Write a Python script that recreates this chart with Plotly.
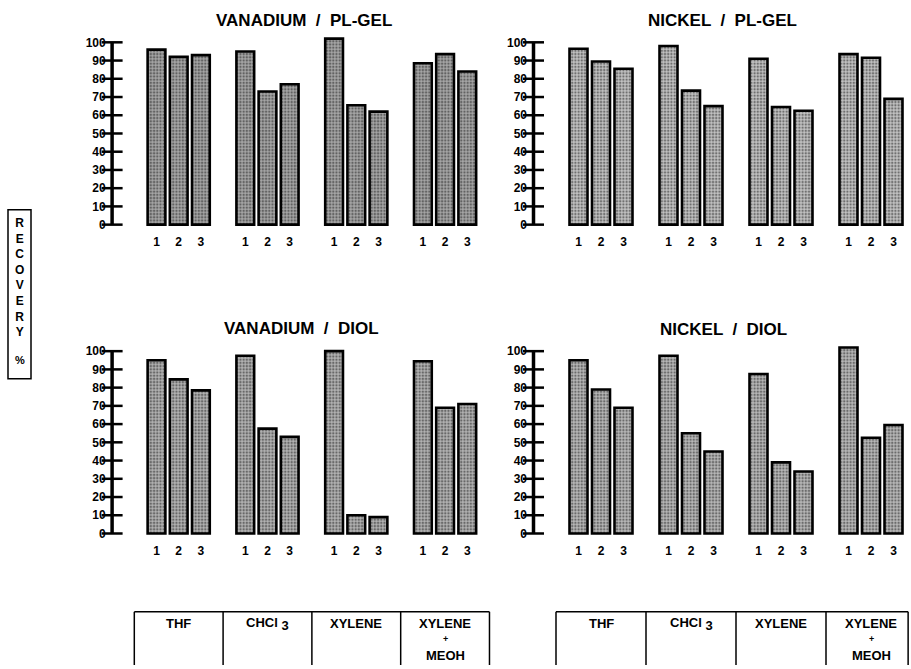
import plotly.graph_objects as go

# Solvents (one bar group each) and the three runs per solvent
SOLVENTS = ["THF", "CHCl3", "XYLENE", "XYLENE + MEOH"]
RUNS = ["1", "2", "3"]

# Recovery % per solvent group, runs 1-3
VANADIUM_PLGEL = [96, 92, 93, 95, 73, 77, 102, 65.5, 62, 88.5, 93.5, 84]
NICKEL_PLGEL = [96.5, 89.5, 85.5, 98, 73.5, 65, 91, 64.5, 62.5, 93.5, 91.5, 69]
VANADIUM_DIOL = [95, 84.5, 78.5, 97.5, 57.5, 53, 100, 10, 9, 94.5, 69, 71]
NICKEL_DIOL = [95, 79, 69, 97.5, 55, 45, 87.5, 39, 34, 102, 52.5, 59.5]

TICK_VALUES = [0, 10, 20, 30, 40, 50, 60, 70, 80, 90, 100]

W, H = 911, 669
FONT = "Liberation Sans"

# x positions: groups 4 units apart, runs 1 unit apart
positions = [g * 4 + r for g in range(len(SOLVENTS)) for r in range(len(RUNS))]
run_labels = [RUNS[r] for g in range(len(SOLVENTS)) for r in range(len(RUNS))]
group_centers = [g * 4 + 1 for g in range(len(SOLVENTS))]
AXIS_X = -2

X_RANGE = [-2.2, 14.6]
Y_RANGE = [-1.5, 105]
LEFT_DOM = [107.66 / W, 480.6 / W]
RIGHT_DOM = [529.0 / W, 907.0 / W]
TOP_DOM = [1 - 228.75 / H, 1 - 33.4 / H]
BOT_DOM = [1 - 539.45 / H, 1 - 344.1 / H]

# axis ids, domains, values, title, title centre (px), halftone base tone
panels = [
    ("x", "y", LEFT_DOM, TOP_DOM, VANADIUM_PLGEL, "VANADIUM  /  PL-GEL", (304, 21), "#a6a6a6"),
    ("x2", "y2", RIGHT_DOM, TOP_DOM, NICKEL_PLGEL, "NICKEL  /  PL-GEL", (722, 21), "#c2c2c2"),
    ("x3", "y3", LEFT_DOM, BOT_DOM, VANADIUM_DIOL, "VANADIUM  /  DIOL", (301, 330), "#b2b2b2"),
    ("x4", "y4", RIGHT_DOM, BOT_DOM, NICKEL_DIOL, "NICKEL  /  DIOL", (723, 331), "#b8b8b8"),
]


def to_paper_x(x, dom):
    return dom[0] + (x - X_RANGE[0]) / (X_RANGE[1] - X_RANGE[0]) * (dom[1] - dom[0])


fig = go.Figure()
layout = dict(
    width=W, height=H, margin=dict(l=0, r=0, t=0, b=0),
    paper_bgcolor="white", plot_bgcolor="white", showlegend=False,
    font=dict(family=FONT, color="black"),
)
annotations = []
shapes = []
bold = dict(family=FONT, weight="bold", color="black")

for i, (xa, ya, xdom, ydom, values, title, tpos, tone) in enumerate(panels):
    fig.add_trace(go.Bar(
        x=positions, y=values, width=0.8, xaxis=xa, yaxis=ya,
        marker=dict(
            color=tone,
            line=dict(color="black", width=2.6),
            pattern=dict(shape=".", bgcolor=tone, fgcolor="#1e1e1e",
                         size=3.2, solidity=0.45),
        ),
    ))
    # axis spine 0..100
    fig.add_trace(go.Scatter(
        x=[AXIS_X, AXIS_X], y=[TICK_VALUES[0], TICK_VALUES[-1]], mode="lines",
        line=dict(color="black", width=3.5), xaxis=xa, yaxis=ya, hoverinfo="skip",
    ))
    # tick marks crossing the spine
    fig.add_trace(go.Scatter(
        x=[AXIS_X] * len(TICK_VALUES), y=TICK_VALUES, mode="markers",
        marker=dict(symbol="line-ew", size=15, line=dict(color="black", width=2.5)),
        xaxis=xa, yaxis=ya, cliponaxis=False, hoverinfo="skip",
    ))
    suffix = "" if i == 0 else str(i + 1)
    layout["xaxis" + suffix] = dict(
        domain=xdom, range=X_RANGE, anchor=ya, showgrid=False, zeroline=False,
        showline=False, ticks="", tickmode="array", tickvals=positions,
        ticktext=run_labels, ticklabelstandoff=6,
        tickfont=dict(bold, size=12),
    )
    layout["yaxis" + suffix] = dict(
        domain=ydom, range=Y_RANGE, anchor=xa, showgrid=False, zeroline=False,
        showline=False, ticks="", tickmode="array", tickvals=TICK_VALUES,
        ticktext=[str(v) for v in TICK_VALUES], ticklabelstandoff=1,
        tickfont=dict(bold, size=12),
    )
    annotations.append(dict(
        text=title, xref="paper", yref="paper",
        x=tpos[0] / W, y=1 - tpos[1] / H,
        xanchor="center", yanchor="middle", showarrow=False,
        font=dict(bold, size=17),
    ))

# solvent tables beneath the lower panels
TABLE_TOP = 1 - 615.5 / H
for xdom, right_edge in [(LEFT_DOM, 15.0), (RIGHT_DOM, 14.65)]:
    edges = [c - 2 for c in group_centers] + [right_edge]
    shapes.append(dict(
        type="line", xref="paper", yref="paper",
        x0=to_paper_x(edges[0], xdom), x1=to_paper_x(edges[-1], xdom),
        y0=TABLE_TOP, y1=TABLE_TOP, line=dict(color="black", width=1.5),
    ))
    for e in edges:
        px = to_paper_x(e, xdom)
        shapes.append(dict(
            type="line", xref="paper", yref="paper", x0=px, x1=px,
            y0=TABLE_TOP, y1=0, line=dict(color="black", width=1.5),
        ))
    for c, name in zip(group_centers, SOLVENTS):
        cx = to_paper_x(c, xdom)
        if name == "CHCl3":
            lines = [("CHCl <sub><span style='font-size:13px'>3</span></sub>", 628, 13)]
        elif name == "XYLENE + MEOH":
            lines = [("XYLENE", 627, 13), ("+", 643, 9), ("MEOH", 659, 13)]
        else:
            lines = [(name, 627, 13)]
        for txt, ypx, size in lines:
            annotations.append(dict(
                text=txt, xref="paper", yref="paper", x=cx, y=1 - ypx / H,
                xanchor="center", yanchor="middle", showarrow=False,
                font=dict(bold, size=size),
            ))

# boxed vertical axis label
shapes.append(dict(
    type="rect", xref="paper", yref="paper",
    x0=8 / W, x1=31 / W, y0=1 - 381 / H, y1=1 - 211 / H,
    line=dict(color="black", width=1.5), fillcolor="rgba(0,0,0,0)",
))
annotations.append(dict(
    text="<br>".join("RECOVERY"),
    xref="paper", yref="paper", x=19.5 / W, y=1 - 279 / H,
    xanchor="center", yanchor="middle", showarrow=False,
    font=dict(bold, size=12),
))
annotations.append(dict(
    text="%", xref="paper", yref="paper", x=19.5 / W, y=1 - 362 / H,
    xanchor="center", yanchor="middle", showarrow=False,
    font=dict(bold, size=11),
))

layout["annotations"] = annotations
layout["shapes"] = shapes
fig.update_layout(**layout)
fig.write_html("out.html")
